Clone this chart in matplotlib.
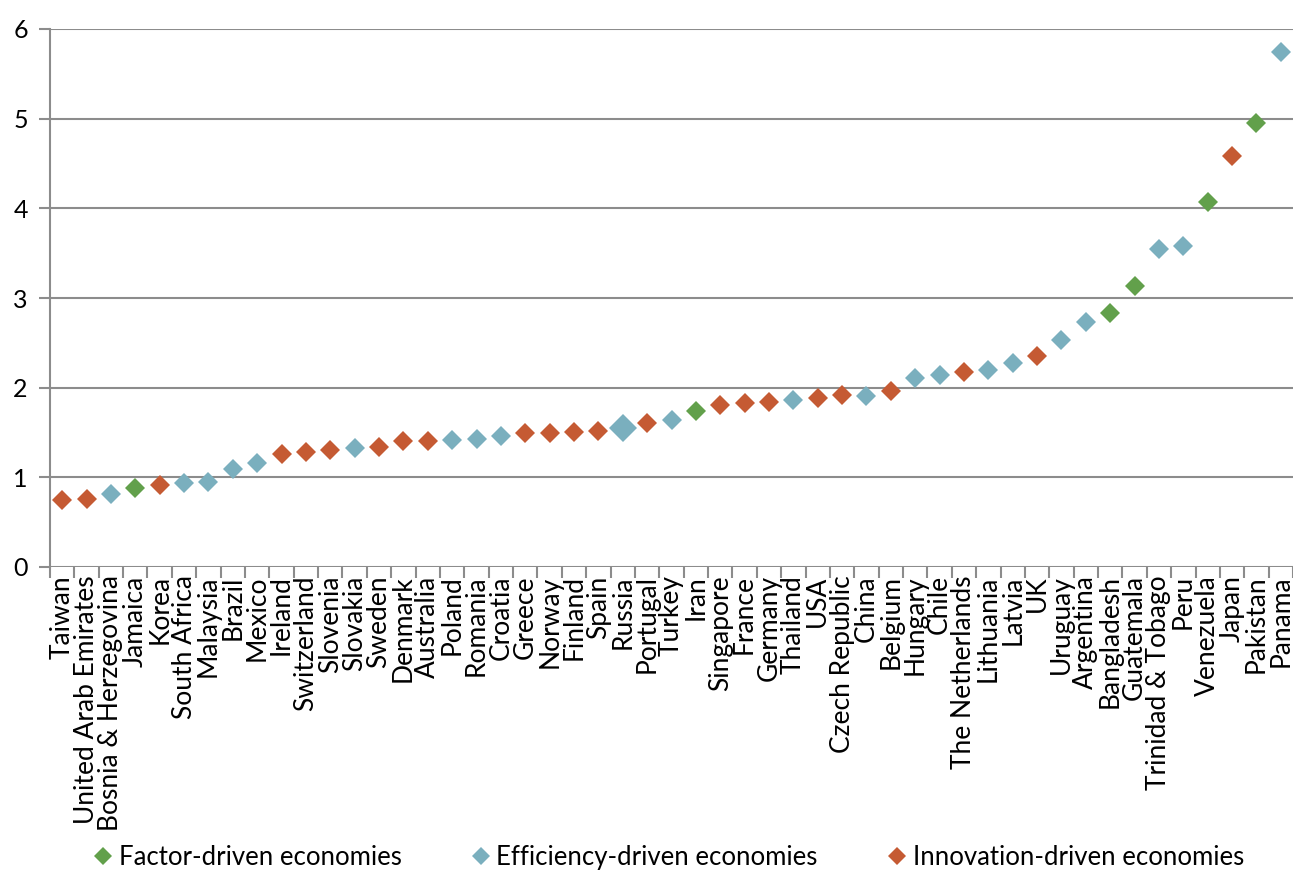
import matplotlib
matplotlib.use("Agg")
import matplotlib.pyplot as plt
from matplotlib.lines import Line2D

plt.rcParams['font.family'] = ['Lato', 'DejaVu Sans']

COUNTRIES = ["Taiwan", "United Arab Emirates", "Bosnia & Herzegovina", "Jamaica", "Korea",
             "South Africa", "Malaysia", "Brazil", "Mexico", "Ireland", "Switzerland",
             "Slovenia", "Slovakia", "Sweden", "Denmark", "Australia", "Poland", "Romania",
             "Croatia", "Greece", "Norway", "Finland", "Spain", "Russia", "Portugal",
             "Turkey", "Iran", "Singapore", "France", "Germany", "Thailand", "USA",
             "Czech Republic", "China", "Belgium", "Hungary", "Chile", "The Netherlands",
             "Lithuania", "Latvia", "UK", "Uruguay", "Argentina", "Bangladesh", "Guatemala",
             "Trinidad & Tobago", "Peru", "Venezuela", "Japan", "Pakistan", "Panama"]

VALUES = [0.75, 0.76, 0.81, 0.88, 0.91, 0.94, 0.95, 1.09, 1.16, 1.26, 1.28,
          1.30, 1.33, 1.34, 1.40, 1.40, 1.42, 1.43, 1.46, 1.49, 1.50, 1.51,
          1.52, 1.55, 1.61, 1.64, 1.74, 1.81, 1.83, 1.84, 1.86, 1.88,
          1.92, 1.91, 1.96, 2.11, 2.14, 2.17, 2.20, 2.27, 2.35, 2.53, 2.73,
          2.83, 3.13, 3.55, 3.58, 4.07, 4.58, 4.95, 5.74]

# F = factor-driven, E = efficiency-driven, I = innovation-driven
GROUPS = ["I", "I", "E", "F", "I", "E", "E", "E", "E", "I", "I",
          "I", "E", "I", "I", "I", "E", "E", "E", "I", "I", "I",
          "I", "E", "I", "E", "F", "I", "I", "I", "E", "I",
          "I", "E", "I", "E", "E", "I", "E", "E", "I", "E", "E",
          "F", "F", "E", "E", "F", "I", "F", "E"]

GROUP_NAMES = {"F": "Factor-driven economies",
               "E": "Efficiency-driven economies",
               "I": "Innovation-driven economies"}
COLORS = {"F": "#62A04B", "E": "#7AAFBE", "I": "#C55A33"}

fig = plt.figure(figsize=(12.93, 8.76), dpi=100)
ax = fig.add_axes([50 / 1293, 1 - 567 / 876, 1243 / 1293, 538 / 876])

for i, (val, g) in enumerate(zip(VALUES, GROUPS)):
    size = 14.5 if COUNTRIES[i] == "Russia" else 10.5
    ax.plot(i, val, marker="D", linestyle="none", markersize=size,
            color=COLORS[g], markeredgewidth=0, zorder=3)

ax.set_xlim(-0.5, len(COUNTRIES) - 0.5)
ax.set_ylim(0, 6)
ax.set_yticks(range(7))
ax.grid(axis="y", color="#8c8c8c", linewidth=1.5)
ax.set_axisbelow(True)

ax.set_xticks(range(len(COUNTRIES)))
ax.set_xticklabels(COUNTRIES, rotation=90, fontsize=19)
ax.tick_params(axis="x", length=0, pad=6)
ax.set_xticks([i - 0.5 for i in range(len(COUNTRIES) + 1)], minor=True)
ax.tick_params(axis="x", which="minor", length=8, width=1.5, color="#8c8c8c")
ax.tick_params(axis="y", length=8, width=1.5, color="#8c8c8c", labelsize=18, pad=8)

for side in ["top", "right", "bottom"]:
    ax.spines[side].set_visible(False)
ax.spines["left"].set_color("#8c8c8c")
ax.spines["left"].set_linewidth(1.5)

handles = [Line2D([0], [0], marker="D", linestyle="none", markersize=9,
                  color=COLORS[k], markeredgewidth=0, label=GROUP_NAMES[k])
           for k in ["F", "E", "I"]]
fig.legend(handles=handles, loc="lower center", ncol=3, frameon=False,
           fontsize=18.5, bbox_to_anchor=(0.516, -0.02), handletextpad=0.1,
           columnspacing=2.6, handlelength=1.0)

fig.savefig("out.png", dpi=100)
